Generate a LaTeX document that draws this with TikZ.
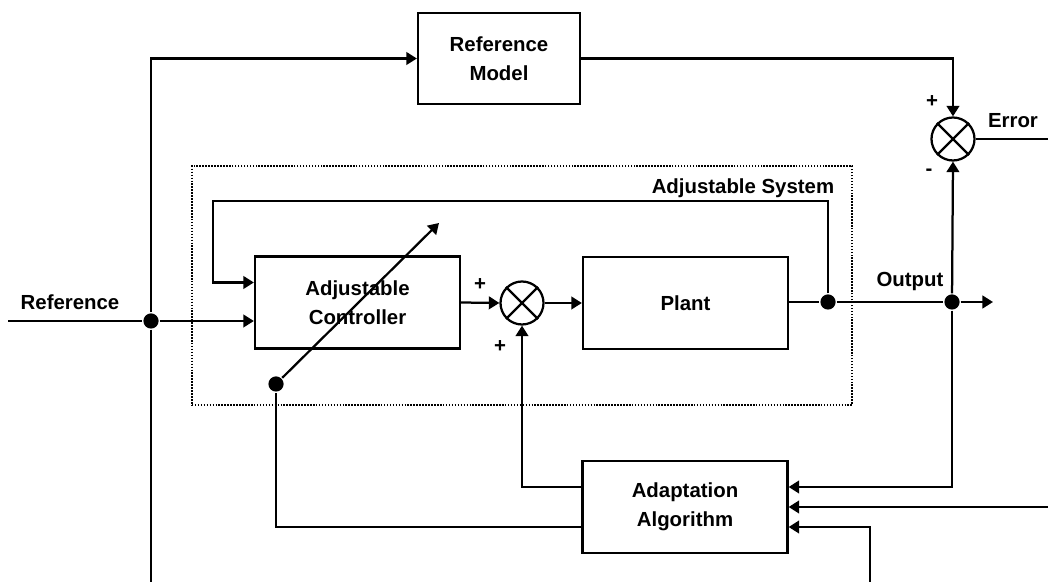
\documentclass[tikz,border=0pt]{standalone}
\usepackage{fontspec}
\setmainfont{Liberation Sans}
\usetikzlibrary{arrows.meta}
\tikzset{
  blk/.style={draw, minimum width=5.125cm, minimum height=2.3cm, align=center},
  sumj/.style={draw, circle, minimum size=1.075cm, inner sep=0pt},
  jdot/.style={circle, fill, inner sep=0pt, minimum size=0.38cm},
  arr/.style={-{Triangle[length=7.5pt,width=9pt]}},
  sysframe/.style={draw, line width=1.1pt, densely dotted, minimum width=16.5cm, minimum height=5.975cm}
}
\begin{document}
\begin{tikzpicture}[x=0.025cm, y=-0.025cm, line width=1.6pt,
    every node/.append style={font=\fontsize{14.5}{21}\selectfont\bfseries}]
    \useasboundingbox (0,0) rectangle (1048,582);

    \node[sysframe] (sys) at (522,285.5) {};
    \node[anchor=east] (syslbl) at (840,188) {Adjustable System};

    \node[blk, minimum width=4.05cm, minimum height=2.275cm] (refmodel) at (499,58.5) {Reference\\Model};
    \node[blk] (ctrl) at (357.5,302.5) {Adjustable\\Controller};
    \node[blk] (plant) at (685.5,303) {Plant};
    \node[blk] (adapt) at (685,507) {Adaptation\\Algorithm};

    \node[sumj] (sum) at (522,303) {};
    \draw (sum.north west) -- (sum.south east) (sum.north east) -- (sum.south west);
    \node[sumj] (err) at (953,139) {};
    \draw (err.north west) -- (err.south east) (err.north east) -- (err.south west);

    \node[jdot] (refdot) at (151,321) {};
    \node[jdot] (fbdot) at (828,302) {};
    \node[jdot] (outdot) at (952,302) {};
    \node[jdot] (adjdot) at (276,384) {};

    \coordinate (refin) at (8,321);
    \coordinate (botl) at (151,582);
    \coordinate (errout) at (1048,139);
    \coordinate (outend) at (993,302);
    \coordinate (fbcorner) at (213,201);
    \coordinate (adjtip) at (439,223);
    \coordinate (rin) at (1048,507);
    \coordinate (brin) at (870,582);

    \node (reflbl) at (70,302) {Reference};
    \node (outlbl) at (910,282) {Output};
    \node (errlbl) at (1013,121) {Error};
    \node (p1) at (932,102) {+};
    \node (m1) at (929,172) {-};
    \node (p2) at (480,285) {+};
    \node (p3) at (500,347) {+};

    \draw (refin) -- (refdot);
    \draw[arr] (refdot) -- (refdot -| ctrl.west);
    \draw[arr] (refdot) |- (refmodel.west);
    \draw (refdot) -- (botl);
    \draw[arr] (refmodel.east) -| (err.north);
    \draw (err.east) -- (errout);
    \draw[arr] (ctrl.east) -- (sum.west);
    \draw[arr] (sum.east) -- (plant.west);
    \draw (plant.east |- fbdot) -- (fbdot) -- (outdot);
    \draw[arr] (outdot) -- (outend);
    \draw[arr] (fbdot) |- (fbcorner) |- ([yshift=0.5cm]ctrl.west);
    \draw[arr] (outdot) -- (err.south);
    \draw[arr] (outdot) |- ([yshift=0.5cm]adapt.east);
    \draw[arr] (rin) -- (adapt.east);
    \draw[arr] (brin) |- ([yshift=-0.5cm]adapt.east);
    \draw[arr] ([yshift=0.5cm]adapt.west) -| (sum.south);
    \draw ([yshift=-0.5cm]adapt.west) -| (adjdot);
    \draw[arr] (adjdot) -- (adjtip);
\end{tikzpicture}
\end{document}
